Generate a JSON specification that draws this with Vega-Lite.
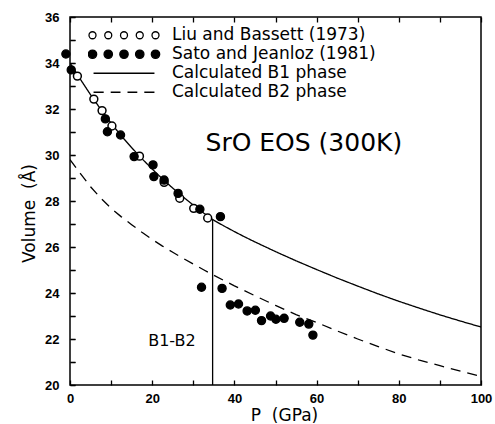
{
  "$schema": "https://vega.github.io/schema/vega-lite/v6.json",
  "width": 411,
  "height": 368,
  "autosize": "none",
  "padding": {"left": 70, "top": 17, "right": 14, "bottom": 39},
  "background": "white",
  "config": {
    "view": {"stroke": "black", "strokeWidth": 1.5},
    "axis": {
      "domain": false,
      "labelFont": "Liberation Sans",
      "labelFontWeight": "bold",
      "labelFontSize": 13,
      "labelColor": "black",
      "labelFlush": false,
      "labelOverlap": false,
      "titleFont": "DejaVu Sans",
      "titleFontWeight": "normal",
      "titleFontSize": 17,
      "titleColor": "black"
    }
  },
  "datasets": {
    "curves": [
      {"phase": "B1", "P": 0, "V": 34.0}, {"phase": "B1", "P": 2.5, "V": 33.3}, {"phase": "B1", "P": 5, "V": 32.62},
      {"phase": "B1", "P": 7.5, "V": 31.98}, {"phase": "B1", "P": 10, "V": 31.38}, {"phase": "B1", "P": 12.5, "V": 30.83},
      {"phase": "B1", "P": 15, "V": 30.32}, {"phase": "B1", "P": 17.5, "V": 29.84}, {"phase": "B1", "P": 20, "V": 29.39},
      {"phase": "B1", "P": 22.5, "V": 28.96}, {"phase": "B1", "P": 25, "V": 28.56}, {"phase": "B1", "P": 27.5, "V": 28.18},
      {"phase": "B1", "P": 30, "V": 27.82}, {"phase": "B1", "P": 32.5, "V": 27.48}, {"phase": "B1", "P": 35, "V": 27.16},
      {"phase": "B1", "P": 37.5, "V": 26.91}, {"phase": "B1", "P": 40, "V": 26.67}, {"phase": "B1", "P": 42.5, "V": 26.44},
      {"phase": "B1", "P": 45, "V": 26.22}, {"phase": "B1", "P": 47.5, "V": 26.01}, {"phase": "B1", "P": 50, "V": 25.8},
      {"phase": "B1", "P": 55, "V": 25.4}, {"phase": "B1", "P": 60, "V": 25.02}, {"phase": "B1", "P": 65, "V": 24.65},
      {"phase": "B1", "P": 70, "V": 24.3}, {"phase": "B1", "P": 75, "V": 23.96}, {"phase": "B1", "P": 80, "V": 23.64},
      {"phase": "B1", "P": 85, "V": 23.34}, {"phase": "B1", "P": 90, "V": 23.05}, {"phase": "B1", "P": 95, "V": 22.78},
      {"phase": "B1", "P": 100, "V": 22.52},
      {"phase": "B2", "P": 0, "V": 29.8}, {"phase": "B2", "P": 2.5, "V": 29.2}, {"phase": "B2", "P": 5, "V": 28.62},
      {"phase": "B2", "P": 7.5, "V": 28.12}, {"phase": "B2", "P": 10, "V": 27.68}, {"phase": "B2", "P": 12.5, "V": 27.31},
      {"phase": "B2", "P": 15, "V": 26.97}, {"phase": "B2", "P": 17.5, "V": 26.64}, {"phase": "B2", "P": 20, "V": 26.33},
      {"phase": "B2", "P": 22.5, "V": 26.04}, {"phase": "B2", "P": 25, "V": 25.77}, {"phase": "B2", "P": 27.5, "V": 25.51},
      {"phase": "B2", "P": 30, "V": 25.26}, {"phase": "B2", "P": 32.5, "V": 25.01}, {"phase": "B2", "P": 35, "V": 24.77},
      {"phase": "B2", "P": 37.5, "V": 24.54}, {"phase": "B2", "P": 40, "V": 24.31}, {"phase": "B2", "P": 45, "V": 23.88},
      {"phase": "B2", "P": 50, "V": 23.46}, {"phase": "B2", "P": 55, "V": 23.06}, {"phase": "B2", "P": 60, "V": 22.72},
      {"phase": "B2", "P": 65, "V": 22.35}, {"phase": "B2", "P": 70, "V": 22.0}, {"phase": "B2", "P": 75, "V": 21.67},
      {"phase": "B2", "P": 80, "V": 21.35}, {"phase": "B2", "P": 85, "V": 21.08}, {"phase": "B2", "P": 90, "V": 20.84},
      {"phase": "B2", "P": 95, "V": 20.6}, {"phase": "B2", "P": 100, "V": 20.37}
    ],
    "obs": [
      {"set": "Liu", "P": 1.8, "V": 33.43}, {"set": "Liu", "P": 5.8, "V": 32.43}, {"set": "Liu", "P": 7.8, "V": 31.93},
      {"set": "Liu", "P": 10.2, "V": 31.26}, {"set": "Liu", "P": 16.9, "V": 29.95}, {"set": "Liu", "P": 22.9, "V": 28.81},
      {"set": "Liu", "P": 26.7, "V": 28.12}, {"set": "Liu", "P": 30.1, "V": 27.68}, {"set": "Liu", "P": 33.5, "V": 27.26},
      {"set": "Sato", "P": -1.0, "V": 34.39}, {"set": "Sato", "P": 0.3, "V": 33.7}, {"set": "Sato", "P": 8.6, "V": 31.57},
      {"set": "Sato", "P": 9.1, "V": 31.01}, {"set": "Sato", "P": 12.3, "V": 30.87}, {"set": "Sato", "P": 15.6, "V": 29.93},
      {"set": "Sato", "P": 20.2, "V": 29.57}, {"set": "Sato", "P": 20.4, "V": 29.06}, {"set": "Sato", "P": 22.9, "V": 28.91},
      {"set": "Sato", "P": 26.3, "V": 28.33}, {"set": "Sato", "P": 31.6, "V": 27.64}, {"set": "Sato", "P": 36.6, "V": 27.32},
      {"set": "Sato", "P": 32.0, "V": 24.25}, {"set": "Sato", "P": 37.0, "V": 24.2}, {"set": "Sato", "P": 39.0, "V": 23.48},
      {"set": "Sato", "P": 41.0, "V": 23.52}, {"set": "Sato", "P": 43.1, "V": 23.22}, {"set": "Sato", "P": 45.1, "V": 23.25},
      {"set": "Sato", "P": 46.6, "V": 22.8}, {"set": "Sato", "P": 48.8, "V": 23.0}, {"set": "Sato", "P": 50.1, "V": 22.86},
      {"set": "Sato", "P": 52.1, "V": 22.9}, {"set": "Sato", "P": 55.9, "V": 22.73}, {"set": "Sato", "P": 58.1, "V": 22.65},
      {"set": "Sato", "P": 59.1, "V": 22.17}
    ],
    "series": [
      {"series": "Liu and Bassett (1973)"},
      {"series": "Sato and Jeanloz (1981)"},
      {"series": "Calculated B1 phase"},
      {"series": "Calculated B2 phase"}
    ]
  },
  "encoding": {
    "x": {
      "field": "P", "type": "quantitative",
      "scale": {"domain": [0, 100], "nice": false, "zero": false},
      "axis": {
        "values": [0, 10, 20, 30, 40, 50, 60, 70, 80, 90, 100],
        "labelExpr": "datum.value % 20 === 0 ? datum.label : ''",
        "ticks": true, "tickSize": -5, "tickColor": "black", "tickWidth": 1.3,
        "grid": true, "gridDash": [5, 1000], "gridColor": "black", "gridWidth": 1.3, "gridOpacity": 1,
        "labelPadding": 12,
        "title": "P\u00a0\u00a0(GPa)",
        "titleX": 214, "titleY": 35, "titleBaseline": "alphabetic", "titleAlign": "center"
      }
    },
    "y": {
      "field": "V", "type": "quantitative",
      "scale": {"domain": [20, 36], "nice": false, "zero": false},
      "axis": {
        "values": [20, 21, 22, 23, 24, 25, 26, 27, 28, 29, 30, 31, 32, 33, 34, 35, 36],
        "labelExpr": "datum.value % 2 === 0 ? datum.label : ''",
        "ticks": true, "tickSize": -5, "tickColor": "black", "tickWidth": 1.3,
        "grid": true, "gridDash": [5, 1000], "gridColor": "black", "gridWidth": 1.3, "gridOpacity": 1,
        "labelPadding": 16,
        "title": "Volume\u00a0 (Å)",
        "titleX": -41, "titleY": 196, "titleAngle": 270, "titleBaseline": "middle", "titleAlign": "center"
      }
    }
  },
  "layer": [
    {
      "data": {"name": "curves"},
      "mark": {"type": "line", "color": "black", "strokeWidth": 1.3, "clip": true},
      "encoding": {
        "strokeDash": {
          "field": "phase", "type": "nominal",
          "scale": {"domain": ["B1", "B2"], "range": [[1, 0], [10, 7]]},
          "legend": null
        }
      }
    },
    {
      "data": {"values": [{"P": 34.7, "V": 20, "V2": 27.18}]},
      "mark": {"type": "rule", "color": "black", "strokeWidth": 1.3},
      "encoding": {
        "y2": {"field": "V2"}
      }
    },
    {
      "data": {"name": "obs"},
      "transform": [{"filter": "datum.set === 'Liu'"}],
      "mark": {"type": "circle", "size": 62, "stroke": "black", "strokeWidth": 1.5, "fill": "white", "opacity": 1, "clip": false},
      "encoding": {}
    },
    {
      "data": {"name": "obs"},
      "transform": [{"filter": "datum.set === 'Sato'"}],
      "mark": {"type": "circle", "size": 66, "stroke": "black", "strokeWidth": 1.3, "fill": "black", "opacity": 1, "clip": false},
      "encoding": {}
    },
    {
      "data": {"values": [{"P": 56.9, "V": 30.52, "label": "SrO EOS (300K)"}]},
      "mark": {"type": "text", "font": "DejaVu Sans", "fontSize": 25, "color": "black", "align": "center", "baseline": "middle"},
      "encoding": {
        "text": {"field": "label"}
      }
    },
    {
      "data": {"values": [{"P": 24.8, "V": 21.9, "label": "B1-B2"}]},
      "mark": {"type": "text", "font": "DejaVu Sans", "fontSize": 16, "color": "black", "align": "center", "baseline": "middle"},
      "encoding": {
        "text": {"field": "label"}
      }
    },
    {
      "data": {"name": "series"},
      "transform": [{"filter": "false"}],
      "mark": {"type": "point", "filled": false, "opacity": 1, "strokeWidth": 1.3},
      "encoding": {
        "x": null,
        "y": null,
        "shape": {
          "field": "series", "type": "nominal",
          "scale": {
            "domain": ["Liu and Bassett (1973)", "Sato and Jeanloz (1981)", "Calculated B1 phase", "Calculated B2 phase"],
            "range": [
              "M-1,0a0.1,0.1 0 1,0 0.2,0a0.1,0.1 0 1,0 -0.2,0ZM-0.55,0a0.1,0.1 0 1,0 0.2,0a0.1,0.1 0 1,0 -0.2,0ZM-0.1,0a0.1,0.1 0 1,0 0.2,0a0.1,0.1 0 1,0 -0.2,0ZM0.35,0a0.1,0.1 0 1,0 0.2,0a0.1,0.1 0 1,0 -0.2,0ZM0.8,0a0.1,0.1 0 1,0 0.2,0a0.1,0.1 0 1,0 -0.2,0Z",
              "M-1.02,0a0.12,0.12 0 1,0 0.24,0a0.12,0.12 0 1,0 -0.24,0ZM-0.57,0a0.12,0.12 0 1,0 0.24,0a0.12,0.12 0 1,0 -0.24,0ZM-0.12,0a0.12,0.12 0 1,0 0.24,0a0.12,0.12 0 1,0 -0.24,0ZM0.33,0a0.12,0.12 0 1,0 0.24,0a0.12,0.12 0 1,0 -0.24,0ZM0.78,0a0.12,0.12 0 1,0 0.24,0a0.12,0.12 0 1,0 -0.24,0Z",
              "M-0.87,0H0.87",
              "M-0.87,0H-0.58M-0.38,0H-0.1M0.1,0H0.38M0.58,0H0.87"
            ]
          },
          "legend": {
            "orient": "none", "legendX": 18, "legendY": 9, "title": null, "padding": 0, "rowPadding": 0,
            "clipHeight": 18.5, "symbolSize": 4900, "symbolStrokeWidth": 1.3, "symbolOpacity": 1,
            "labelFont": "DejaVu Sans", "labelFontSize": 17, "labelColor": "black", "labelOffset": 12, "labelLimit": 400
          }
        },
        "fill": {
          "field": "series", "type": "nominal",
          "scale": {
            "domain": ["Liu and Bassett (1973)", "Sato and Jeanloz (1981)", "Calculated B1 phase", "Calculated B2 phase"],
            "range": ["transparent", "black", "transparent", "transparent"]
          },
          "legend": {
            "orient": "none", "legendX": 18, "legendY": 9, "title": null, "padding": 0, "rowPadding": 0,
            "clipHeight": 18.5, "symbolSize": 4900, "symbolStrokeWidth": 1.3, "symbolOpacity": 1,
            "labelFont": "DejaVu Sans", "labelFontSize": 17, "labelColor": "black", "labelOffset": 12, "labelLimit": 400
          }
        },
        "stroke": {
          "field": "series", "type": "nominal",
          "scale": {
            "domain": ["Liu and Bassett (1973)", "Sato and Jeanloz (1981)", "Calculated B1 phase", "Calculated B2 phase"],
            "range": ["black", "black", "black", "black"]
          },
          "legend": {
            "orient": "none", "legendX": 18, "legendY": 9, "title": null, "padding": 0, "rowPadding": 0,
            "clipHeight": 18.5, "symbolSize": 4900, "symbolStrokeWidth": 1.3, "symbolOpacity": 1,
            "labelFont": "DejaVu Sans", "labelFontSize": 17, "labelColor": "black", "labelOffset": 12, "labelLimit": 400
          }
        }
      }
    }
  ]
}
